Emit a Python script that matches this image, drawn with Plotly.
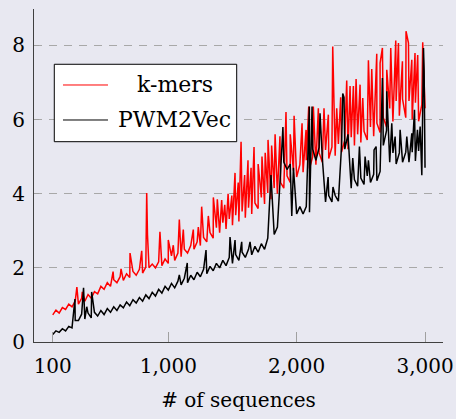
import plotly.graph_objects as go

# ---------------- data ----------------
sample_x = list(range(100, 3001, 25))

# k-mers: alternating lower / upper edge of the noisy band
kmers_band = [
    0.73, 0.86, 0.78, 0.93, 0.88, 1.02, 0.95, 1.10, 1.02, 1.18,
    1.10, 1.28, 1.18, 1.36, 1.30, 1.50, 1.42, 1.60, 1.50, 1.68,
    1.60, 1.76, 1.66, 1.84, 1.74, 1.90, 1.80, 1.96, 1.86, 2.02,
    2.00, 2.10, 2.00, 2.16, 2.06, 2.24, 2.12, 2.32, 2.20, 2.40,
    2.30, 2.50, 2.40, 2.60, 2.50, 2.70, 2.60, 2.82, 2.70, 2.95,
    2.80, 3.08, 2.95, 3.22, 3.05, 3.32, 3.15, 3.42, 3.25, 3.52,
    3.35, 3.62, 3.45, 3.75, 3.60, 3.90, 3.72, 4.02, 3.85, 4.15,
    4.00, 4.30, 4.15, 4.48, 4.30, 4.62, 4.45, 4.78, 4.58, 4.90,
    4.68, 5.00, 4.78, 5.10, 4.85, 5.18, 4.95, 5.26, 5.02, 5.34,
    5.12, 5.45, 5.20, 5.52, 5.30, 5.60, 5.38, 5.68, 5.45, 5.80,
    5.55, 5.90, 5.65, 6.05, 5.80, 6.30, 5.95, 6.50, 6.10, 6.55,
    6.05, 6.50, 6.00, 6.45, 5.95, 6.40, 6.30,
]
kmers_spike_x = [288, 330, 570, 632, 702, 793, 832, 838, 935, 1000, 1039, 1086,
                 1117, 1195, 1234, 1260, 1312, 1351, 1382, 1388, 1416, 1440,
                 1466, 1495, 1520, 1545, 1567, 1595, 1621, 1645, 1668, 1700,
                 1730, 1755, 1777, 1805, 1832, 1870, 1917, 1950, 1980, 2042,
                 2073, 2094, 2130, 2169, 2213, 2247, 2281, 2312, 2343, 2390,
                 2416, 2442, 2463, 2494, 2515, 2559, 2585, 2624, 2650, 2668,
                 2702, 2733, 2772, 2793, 2824, 2852, 2871, 2897, 2922, 2943,
                 2982]
kmers_spike_y = [1.48, 1.35, 1.90, 1.97, 2.40, 2.46, 4.02, 2.90, 2.97, 2.75, 2.61, 3.30,
                 3.03, 3.03, 3.10, 3.65, 3.40, 3.90, 3.85, 3.50, 3.83, 3.70,
                 4.00, 3.95, 4.56, 4.30, 5.40, 4.50, 4.90, 4.70, 5.26, 4.80,
                 5.00, 5.10, 5.45, 5.30, 5.60, 5.55, 6.20, 5.60, 6.10, 5.90,
                 5.72, 6.35, 6.35, 6.30, 6.30, 6.13, 7.97, 6.30, 6.60, 7.05,
                 6.90, 6.90, 7.09, 6.94, 6.58, 7.60, 7.36, 7.77, 7.52, 7.93,
                 7.34, 7.93, 8.13, 8.06, 7.57, 8.38, 8.06, 7.61, 7.79, 7.74,
                 8.08]

# PWM2Vec: alternating lower / upper edge of the noisy band
pwm_band = [
    0.20, 0.30, 0.26, 0.36, 0.30, 0.42, 0.38, 0.58, 0.58, 0.75,
    0.62, 0.78, 0.65, 0.80, 0.70, 0.85, 0.74, 0.90, 0.80, 0.95,
    0.85, 1.00, 0.92, 1.08, 0.98, 1.14, 1.05, 1.20, 1.10, 1.27,
    1.17, 1.34, 1.24, 1.42, 1.32, 1.50, 1.40, 1.58, 1.46, 1.64,
    1.54, 1.72, 1.60, 1.80, 1.68, 1.88, 1.76, 1.96, 1.84, 2.04,
    1.92, 2.12, 2.00, 2.20, 2.06, 2.28, 2.12, 2.36, 2.20, 2.42,
    2.28, 2.50, 2.35, 2.58, 2.42, 2.65, 2.50, 2.80, 4.50, 2.90,
    3.10, 4.60, 4.85, 4.65, 4.80, 4.70, 3.45, 3.65, 3.45, 3.65,
    3.50, 5.20, 4.90, 5.25, 4.95, 3.78, 3.95, 3.78, 3.95, 3.80,
    5.30, 5.20, 5.60, 4.15, 4.38, 4.20, 4.42, 4.25, 4.48, 4.30,
    4.52, 4.35, 4.60, 5.30, 5.70, 4.85, 5.10, 4.80, 5.10, 4.85,
    5.12, 4.85, 5.12, 4.88, 5.15, 4.50, 4.70,
]
pwm_spike_x = [273, 340, 365, 403, 1086, 1148, 1294, 1481, 1520, 1572, 1637,
               1893, 1962, 2099, 2120, 2182, 2245, 2283, 2359, 2369, 2437,
               2489, 2533, 2559, 2603, 2619, 2668, 2702, 2741, 2767, 2806,
               2858, 2897, 2918, 2941, 2962, 2988, 2993]
pwm_spike_y = [1.16, 1.46, 0.95, 1.35, 1.81, 2.13, 2.48, 2.83, 2.75, 2.70, 2.70,
               5.80, 3.40, 6.35, 6.35, 6.17, 4.45, 4.18, 6.70, 6.60, 4.96,
               5.27, 5.00, 4.90, 5.18, 5.27, 7.12, 6.76, 5.90, 5.54, 5.72,
               5.54, 5.63, 6.26, 5.72, 5.81, 7.93, 7.30]

x_tick_vals = [100, 1000, 2000, 3000]
x_tick_text = ["100", "1,000", "2,000", "3,000"]
y_tick_vals = [0, 2, 4, 6, 8]
series_names = ["k-mers", "PWM2Vec"]
x_title = "# of sequences"


def merge(xs, ys, sx, sy):
    pts = sorted(zip(list(xs) + list(sx), list(ys) + list(sy)), key=lambda p: p[0])
    return [p[0] for p in pts], [p[1] for p in pts]


kx, ky = merge(sample_x, kmers_band, kmers_spike_x, kmers_spike_y)
px_, py_ = merge(sample_x, pwm_band, pwm_spike_x, pwm_spike_y)

BG = "#E8E8F1"
FONT = "DejaVu Serif"

fig = go.Figure()
fig.add_trace(go.Scatter(x=kx, y=ky, mode="lines", name=series_names[0],
                         line=dict(color="#FF0000", width=1.5), showlegend=False))
fig.add_trace(go.Scatter(x=px_, y=py_, mode="lines", name=series_names[1],
                         line=dict(color="#000000", width=1.5), showlegend=False))

# legend drawn as a box with line samples and centred labels
fig.add_shape(type="rect", xref="paper", yref="paper", x0=0.0496, x1=0.4956,
              y0=0.6015, y1=0.834, fillcolor="white", line=dict(color="black", width=1),
              layer="above")
for yy, col in [(0.7718, "#FF0000"), (0.6667, "#000000")]:
    fig.add_shape(type="line", xref="paper", yref="paper", x0=0.0709, x1=0.1809,
                  y0=yy, y1=yy, line=dict(color=col, width=1), layer="above")
for yy, name in [(0.7718, series_names[0]), (0.6667, series_names[1])]:
    fig.add_annotation(xref="paper", yref="paper", x=0.344, y=yy, text=name,
                       showarrow=False, xanchor="center", yanchor="middle",
                       font=dict(family=FONT, size=22, color="black"))

fig.update_layout(
    width=456, height=419,
    margin=dict(l=34, r=13, t=9, b=77, autoexpand=False),
    paper_bgcolor=BG, plot_bgcolor=BG,
    font=dict(family=FONT, size=20, color="black"),
    showlegend=False,
)
fig.update_xaxes(
    range=[-46, 3140], tickvals=x_tick_vals, ticktext=x_tick_text,
    ticks="inside", ticklen=10, tickcolor="#A0A0A0", tickwidth=1,
    ticklabelstandoff=6,
    showgrid=False, zeroline=False,
    showline=True, linecolor="#404040", linewidth=1,
    title=dict(text=x_title, font=dict(family=FONT, size=20), standoff=15),
    tickfont=dict(family=FONT, size=20),
)
fig.update_yaxes(
    range=[0, 8.98], tickvals=y_tick_vals,
    ticks="inside", ticklen=5, tickcolor="#A0A0A0", tickwidth=1,
    ticklabelstandoff=4,
    showgrid=True, gridcolor="#A8A8A8", gridwidth=1.2, griddash="8px,7px",
    zeroline=False,
    showline=True, linecolor="#404040", linewidth=1,
    tickfont=dict(family=FONT, size=20),
)

fig.write_html(
    "out.html",
    config={"displayModeBar": False},
    post_script="document.body.style.margin='0';document.body.style.background='"
    + BG + "';",
)
